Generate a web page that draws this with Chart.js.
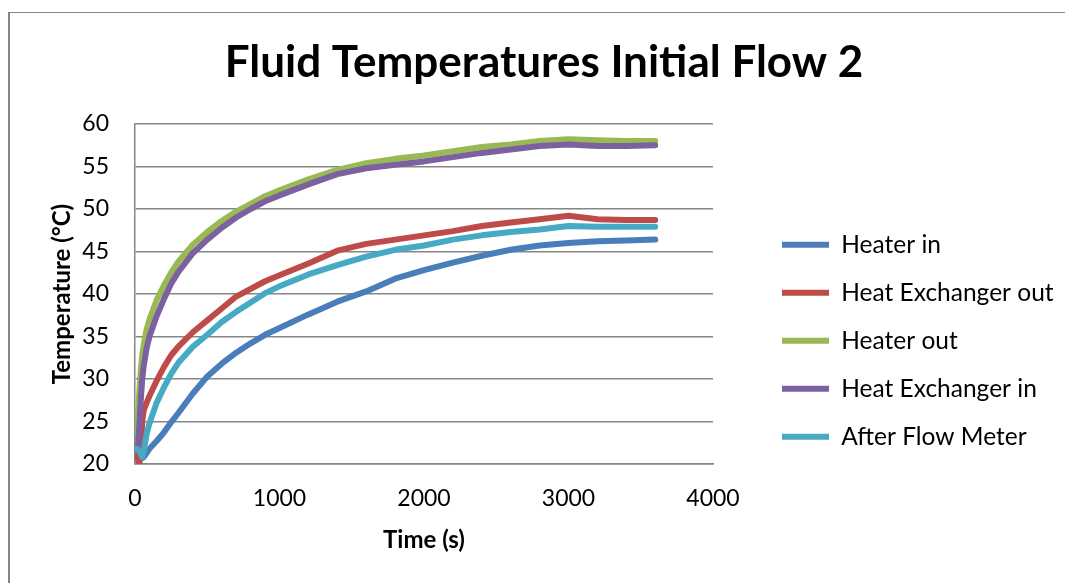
<!DOCTYPE html>
<html>
<head>
<meta charset="utf-8">
<script src="https://cdn.jsdelivr.net/npm/chart.js@4.4.1/dist/chart.umd.min.js"></script>
<style>
  html, body { margin: 0; padding: 0; background: #fff; overflow: hidden; }
  #wrap  { position: relative; width: 1065px; height: 583px; }
  #frame { position: absolute; left: 8px; top: 12px; width: 1100px; height: 600px;
           border-left: 2px solid #868686; border-top: 1px solid #868686; }
  #c     { position: absolute; left: 0; top: 0; }
</style>
</head>
<body>
<div id="wrap">
  <div id="frame"></div>
  <canvas id="c" width="1065" height="583"></canvas>
</div>
<script>
// ── Data ──────────────────────────────────────────────
const times = [0, 20, 30, 40, 50, 60, 80, 100, 150, 200, 250, 300, 400, 500, 600, 700,
               800, 900, 1000, 1200, 1400, 1600, 1800, 2000, 2200, 2400, 2600, 2800,
               3000, 3200, 3400, 3600];

const heaterIn = [21.7, 21.5, 21.3, 21.0, 20.7, 20.8, 21.3, 21.8, 22.7, 23.7, 24.9, 26.0,
                  28.3, 30.3, 31.8, 33.1, 34.2, 35.2, 36.0, 37.6, 39.1, 40.3, 41.8, 42.8,
                  43.7, 44.5, 45.2, 45.7, 46.0, 46.2, 46.3, 46.4];

const heatExOut = [21.0, 20.5, 20.0, 21.5, 25.0, 26.3, 27.2, 28.0, 29.8, 31.4, 32.8, 33.8,
                   35.5, 36.9, 38.3, 39.7, 40.6, 41.5, 42.2, 43.6, 45.1, 45.9, 46.4, 46.9,
                   47.4, 48.0, 48.4, 48.8, 49.2, 48.8, 48.7, 48.7];

const heaterOut = [22.0, 25.5, 28.5, 31.0, 32.8, 34.0, 35.8, 37.0, 39.3, 41.0, 42.5, 43.8,
                   45.8, 47.3, 48.6, 49.7, 50.6, 51.5, 52.2, 53.5, 54.6, 55.4, 55.9, 56.3,
                   56.8, 57.3, 57.6, 58.0, 58.2, 58.1, 58.0, 58.0];

const heatExIn = [21.5, 22.0, 24.5, 27.5, 30.0, 31.5, 33.6, 35.0, 37.4, 39.4, 41.2, 42.6,
                  44.8, 46.4, 47.8, 49.0, 50.0, 50.9, 51.6, 52.9, 54.1, 54.8, 55.2, 55.6,
                  56.1, 56.6, 57.0, 57.4, 57.6, 57.4, 57.4, 57.5];

const afterFlow = [21.8, 21.7, 21.5, 21.2, 20.8, 21.5, 23.5, 24.8, 27.2, 29.0, 30.6, 31.9,
                   33.8, 35.2, 36.7, 37.9, 39.0, 40.1, 40.9, 42.3, 43.4, 44.4, 45.2, 45.7,
                   46.4, 46.9, 47.3, 47.6, 48.0, 47.9, 47.9, 47.9];

const seriesNames  = ['Heater in', 'Heat Exchanger out', 'Heater out', 'Heat Exchanger in', 'After Flow Meter'];
const seriesValues = [heaterIn, heatExOut, heaterOut, heatExIn, afterFlow];
const seriesColors = ['#4a7ebb', '#be4b48', '#98b954', '#7d60a0', '#46aac5'];

const xTicks = [0, 1000, 2000, 3000, 4000];
const yTicks = [20, 25, 30, 35, 40, 45, 50, 55, 60];

// ── Layout constants ──────────────────────────────────
const W = 1065, H = 583;
const AREA = { left: 135, right: 713, top: 124, bottom: 464 };
const FONT = 'Lato, "Open Sans", sans-serif';
const LEG_FONT = 24.5, LEG_PAD = 23.5, LEG_BOX = 47;
const LEG_X = 782, LEG_Y = 232.5;      // first legend row
const TITLE_CX = 544;
const PAD = { top: 0, left: 43.6, bottom: 24.6 };

// legend width → right padding so the plot ends at AREA.right
const mctx = document.createElement('canvas').getContext('2d');
mctx.font = LEG_FONT + 'px ' + FONT;
const maxText = Math.max(...seriesNames.map(n => mctx.measureText(n).width));
const legendW = LEG_PAD + LEG_BOX + LEG_FONT / 2 + maxText + 10;
PAD.right = W - AREA.right - legendW;

const placeBoxes = {
    id: 'placeBoxes',
    afterLayout(chart) {
        const lg = chart.legend;
        const colH = lg.columnSizes[0].height;
        const curY = (lg.top + LEG_PAD + lg.bottom - colH) / 2;
        const dy = LEG_Y - curY, dx = LEG_X - (lg.left + LEG_PAD);
        lg.top += dy; lg.bottom += dy; lg.left += dx; lg.right += dx;

        const tb = chart.titleBlock;
        const tdx = TITLE_CX - (tb.left + tb.right) / 2;
        tb.left += tdx; tb.right += tdx;
    }
};

Chart.defaults.color = '#000';
Chart.defaults.font.family = FONT;

const datasets = seriesNames.map((name, i) => ({
    label: name,
    data: times.map((t, k) => ({ x: t, y: seriesValues[i][k] })),
    borderColor: seriesColors[i],
    backgroundColor: seriesColors[i],
    borderWidth: 6,
    borderCapStyle: 'round',
    borderJoinStyle: 'round',
    pointRadius: 0,
    tension: 0,
    order: seriesNames.length - i     // later series on top, like Excel
}));

const gridGrey = '#868686';

new Chart(document.getElementById('c'), {
    type: 'line',
    data: { datasets },
    options: {
        responsive: false,
        animation: false,
        layout: { padding: PAD },
        plugins: {
            title: {
                display: true,
                text: 'Fluid Temperatures Initial Flow 2',
                font: { size: 44, weight: 'bold', lineHeight: 1.2 },
                padding: { top: 36, bottom: 35.2 }
            },
            legend: {
                position: 'right',
                maxWidth: 500,
                labels: {
                    font: { size: LEG_FONT },
                    padding: LEG_PAD,
                    usePointStyle: true,
                    pointStyle: 'line',
                    pointStyleWidth: LEG_BOX,
                    sort: (a, b) => a.datasetIndex - b.datasetIndex
                }
            },
            tooltip: { enabled: false }
        },
        scales: {
            x: {
                type: 'linear',
                min: 0, max: 4000,
                afterBuildTicks: s => { s.ticks = xTicks.map(v => ({ value: v })); },
                afterFit: s => { s.height = H - PAD.bottom - AREA.bottom; },
                grid: { display: false, drawTicks: false },
                border: { display: true, color: gridGrey, width: 1.5 },
                ticks: { font: { size: 23 }, padding: 21, maxRotation: 0,
                         callback: v => String(v) },
                title: { display: true, text: 'Time (s)',
                         font: { size: 24, weight: 'bold', lineHeight: 1.2 },
                         padding: { top: 4, bottom: 4 } }
            },
            y: {
                min: 20, max: 60,
                afterBuildTicks: s => { s.ticks = yTicks.map(v => ({ value: v })); },
                afterFit: s => { s.width = AREA.left - PAD.left; },
                grid: { color: gridGrey, lineWidth: 1.5, drawTicks: false },
                border: { display: true, color: gridGrey, width: 1.5 },
                ticks: { font: { size: 23 }, padding: 26, callback: v => String(v) },
                title: { display: true, text: 'Temperature (°C)',
                         font: { size: 24, weight: 'bold', lineHeight: 1.2 },
                         padding: { top: 4, bottom: 4 } }
            }
        }
    },
    plugins: [placeBoxes]
});
</script>
</body>
</html>
